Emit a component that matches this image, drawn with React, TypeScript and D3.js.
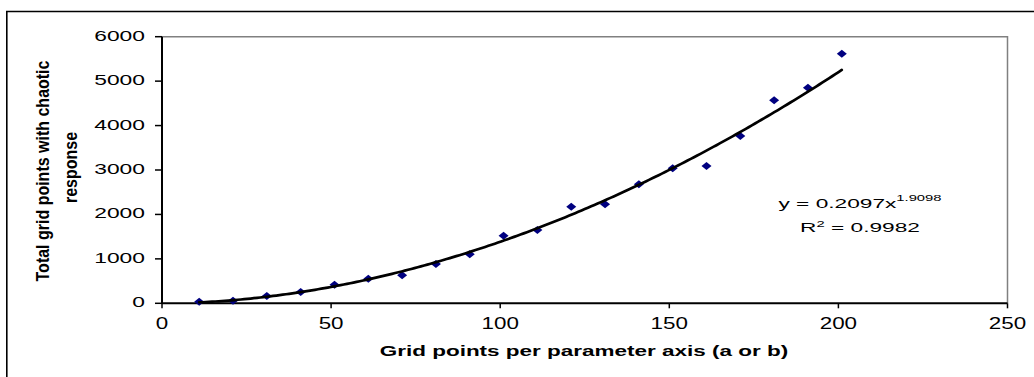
import React from 'react';
import * as d3 from 'd3';

const xValues = [11, 21, 31, 41, 51, 61, 71, 81, 91, 101, 111, 121, 131, 141, 151, 161, 171, 181, 191, 201];
const yValues = [35, 60, 164, 254, 419, 554, 630, 885, 1103, 1521, 1650, 2175, 2228, 2678, 3038, 3090, 3765, 4569, 4853, 5618];
const xTicks = [0, 50, 100, 150, 200, 250];
const yTicks = [0, 1000, 2000, 3000, 4000, 5000, 6000];
const fitCoef = 0.2097;
const fitExp = 1.9098;
const eqMain = 'y = 0.2097x';
const eqExp = '1.9098';
const r2Value = ' = 0.9982';
const xTitle = 'Grid points per parameter axis (a or b)';
const yTitleLines = ['Total grid points with chaotic', 'response'];

const FONT = '"Liberation Sans", Arial, sans-serif';

export default function App() {
  const W = 1034;
  const H = 377;
  const left = 162, right = 1007.5, top = 36.7, bottom = 303.3;
  const x = d3.scaleLinear().domain([0, 250]).range([left, right]);
  const y = d3.scaleLinear().domain([0, 6000]).range([bottom, top]);

  const xMin = d3.min(xValues) as number;
  const xMax = d3.max(xValues) as number;
  const fitXs = d3.range(0, 201).map((i) => xMin + ((xMax - xMin) * i) / 200);
  const fitLine = d3
    .line<number>()
    .x((v) => x(v))
    .y((v) => y(fitCoef * Math.pow(v, fitExp)))(fitXs) as string;

  const diamond = (cx: number, cy: number) =>
    `M${cx},${cy - 4}L${cx + 5},${cy}L${cx},${cy + 4}L${cx - 5},${cy}Z`;

  return (
    <svg
      width={W}
      height={H}
      style={{ position: 'absolute', left: 0, top: 0, background: '#fff' }}
      fontFamily={FONT}
    >
      <rect x={0} y={0} width={W} height={H} fill="#fff" />
      {/* outer chart border */}
      <path d={`M6.8,${H + 5}V11.5H${W + 5}`} fill="none" stroke="#000" strokeWidth={1.6} />

      {/* plot area border (gray top/right) */}
      <path d={`M${left},${top}H${right}V${bottom}`} fill="none" stroke="#808080" strokeWidth={1.5} />

      {/* axes */}
      <line x1={left} x2={left} y1={top} y2={bottom} stroke="#000" strokeWidth={2} />
      <line x1={left} x2={right} y1={bottom} y2={bottom} stroke="#000" strokeWidth={2} />

      {yTicks.map((t) => (
        <g key={'y' + t}>
          <line x1={left - 7} x2={left} y1={y(t)} y2={y(t)} stroke="#000" strokeWidth={1.5} />
          <text
            transform={`translate(145,${y(t) + 4}) scale(1.63,1)`}
            fontSize={14}
            textAnchor="end"
            fill="#000"
          >
            {t}
          </text>
        </g>
      ))}

      {xTicks.map((t) => (
        <g key={'x' + t}>
          <line x1={x(t)} x2={x(t)} y1={bottom} y2={bottom + 5} stroke="#000" strokeWidth={1.5} />
          <text
            transform={`translate(${x(t)},329.3) scale(1.4,1)`}
            fontSize={16}
            textAnchor="middle"
            fill="#000"
          >
            {t}
          </text>
        </g>
      ))}

      {/* markers */}
      {xValues.map((xv, i) => (
        <path key={'m' + i} d={diamond(x(xv), y(yValues[i]))} fill="#000080" />
      ))}

      {/* trend line */}
      <path d={fitLine} fill="none" stroke="#000" strokeWidth={2.7} strokeLinejoin="round" strokeLinecap="round" />

      {/* equation */}
      <text transform="translate(860,207.5) scale(1.68,1)" fontSize={13.5} textAnchor="middle" fill="#000">
        {eqMain}
        <tspan fontSize={8.8} dy={-6.5}>
          {eqExp}
        </tspan>
      </text>
      <text transform="translate(860,231.5) scale(1.68,1)" fontSize={13.5} textAnchor="middle" fill="#000">
        R
        <tspan fontSize={8.8} dy={-5}>
          2
        </tspan>
        <tspan dy={5}>{r2Value}</tspan>
      </text>

      {/* axis titles */}
      <text
        transform="translate(584,356) scale(1.5,1)"
        fontSize={15}
        fontWeight="bold"
        textAnchor="middle"
        fill="#000"
      >
        {xTitle}
      </text>
      <text
        transform="translate(48.6,171) scale(1.19,1) rotate(-90)"
        fontSize={16}
        fontWeight="bold"
        textAnchor="middle"
        fill="#000"
      >
        {yTitleLines[0]}
      </text>
      <text
        transform="translate(77,167.5) scale(1.19,1) rotate(-90)"
        fontSize={16}
        fontWeight="bold"
        textAnchor="middle"
        fill="#000"
      >
        {yTitleLines[1]}
      </text>
    </svg>
  );
}
